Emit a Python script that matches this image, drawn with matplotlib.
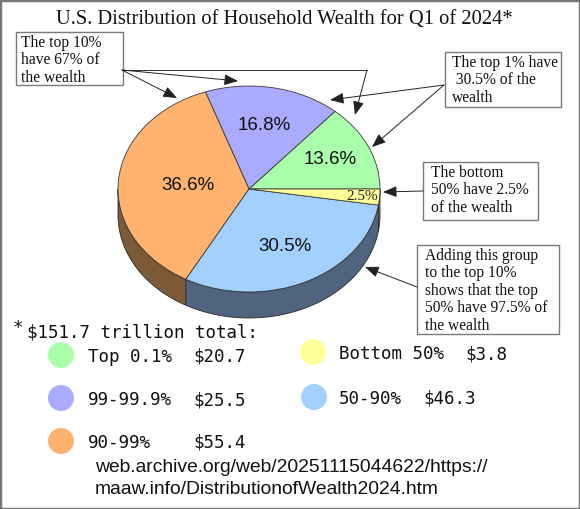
import numpy as np
import matplotlib.pyplot as plt
from matplotlib.patches import Rectangle, Polygon, Circle

# data
groups = ['Top 0.1%', '99-99.9%', '90-99%', '50-90%', 'Bottom 50%']
wealth = [20.7, 25.5, 55.4, 46.3, 3.8]        # trillions of dollars
shares = [13.6, 16.8, 36.6, 30.5, 2.5]        # percent, as printed on the pie
total = 151.7
title = 'U.S. Distribution of Household Wealth for Q1 of 2024*'
source = ['web.archive.org/web/20251115044622/https://',
          'maaw.info/DistributionofWealth2024.htm']

top_colors = ['#aaffaa', '#aaaaff', '#ffb36e', '#a2d0ff', '#ffff99']
side_colors = ['#5a805a', '#5a5a80', '#7d5a37', '#506480', '#80804d']

W, H = 580, 509
fig = plt.figure(figsize=(W / 100, H / 100), dpi=100)

# ---- pie (flattened into an ellipse, with a side wall) ----
cx, cy, ra, rb = 249, 189, 131, 103   # pixel geometry of the top ellipse
depth = 26 / rb
xl = (-1.1, 1.1)
yl = (-1.45, 1.1)
left_px, right_px = cx + xl[0] * ra, cx + xl[1] * ra
top_px, bot_px = cy - yl[1] * rb, cy - yl[0] * rb
pax = fig.add_axes([left_px / W, 1 - bot_px / H,
                    (right_px - left_px) / W, (bot_px - top_px) / H])

wedges, _ = pax.pie(shares, colors=top_colors, startangle=0, counterclock=True,
                    radius=1, center=(0, 0), frame=True,
                    wedgeprops=dict(edgecolor='#3a3a3a', linewidth=0.6, zorder=3))
pax.set_aspect('auto')
pax.set_xlim(xl)
pax.set_ylim(yl)
pax.axis('off')

for w, sc in zip(wedges, side_colors):
    t1 = max(w.theta1, 180)
    t2 = min(w.theta2, 360)
    if t2 <= t1:
        continue
    t = np.radians(np.linspace(t1, t2, 80))
    xs, ys = np.cos(t), np.sin(t)
    verts = np.column_stack([np.r_[xs, xs[::-1]], np.r_[ys, ys[::-1] - depth]])
    pax.add_patch(Polygon(verts, closed=True, fc=sc, ec='#2a2a2a', lw=0.6, zorder=1))

# percent labels
label_r = [0.68, 0.63, 0.47, 0.62, 0.87]
for w, s, r in zip(wedges, shares, label_r):
    mid = np.radians((w.theta1 + w.theta2) / 2)
    if s < 5:
        pax.text(r * np.cos(mid), r * np.sin(mid), f'{s}%', ha='center', va='center',
                 family='Liberation Serif', fontsize=11, color='#222222', zorder=5)
    else:
        pax.text(r * np.cos(mid), r * np.sin(mid), f'{s}%', ha='center', va='center',
                 family='Liberation Sans', fontsize=13.5, color='#111111', zorder=5)

# ---- overlay in pixel coordinates ----
ax = fig.add_axes([0, 0, 1, 1])
ax.set_xlim(0, W)
ax.set_ylim(H, 0)
ax.axis('off')
ax.patch.set_alpha(0)

ax.text(284, 24, title, ha='center', va='baseline', family='Liberation Serif',
        fontsize=14.8, color='#111111')

serif = dict(family='Liberation Serif', fontsize=11.2, color='#111111',
             linespacing=1.12, va='top', ha='left')
boxes = [
    ((16, 32, 107, 53), 'The top 10%\nhave 67% of\nthe wealth', (21, 35)),
    ((445, 52, 116, 55), 'The top 1% have\n 30.5% of the\nwealth', (452, 55)),
    ((423, 162, 115, 58), 'The bottom\n50% have 2.5%\nof the wealth', (431, 165)),
    ((417, 245, 142, 89), 'Adding this group\nto the top 10%\nshows that the top\n'
     '50% have 97.5% of\nthe wealth', (425, 248)),
]
for (x, y, w, h), txt, (tx, ty) in boxes:
    ax.add_patch(Rectangle((x, y), w, h, fc='white', ec='#7a7a7a', lw=1.0, zorder=4))
    ax.text(tx, ty, txt, zorder=5, **serif)

arrow = dict(arrowstyle='-|>,head_length=0.7,head_width=0.28', color='#222222',
             lw=0.7, mutation_scale=12, shrinkA=0, shrinkB=0)
arrows = [
    ((122, 70), (177, 98)),
    ((122, 70), (238, 81)),
    ((367, 70), (355, 115)),
    ((444, 85), (330, 100)),
    ((444, 85), (372, 147)),
    ((423, 191), (383, 192)),
    ((417, 287), (365, 267)),
]
ax.plot([122, 367], [70, 70], color='#333333', lw=0.7, zorder=6)
for start, tip in arrows:
    ax.annotate('', xy=tip, xytext=start, arrowprops=arrow, zorder=6)

# legend with dollar amounts
mono = dict(family='DejaVu Sans Mono', fontsize=12.6, color='#111111')
ax.text(13, 333, '*', ha='left', va='baseline', **mono)
ax.text(27, 337, f'${total} trillion total:', ha='left', va='baseline', **mono)

rows = [(0, 61, 355, 88, 193), (1, 61, 398, 88, 193), (2, 61, 441, 88, 193),
        (4, 313, 352, 339, 465), (3, 314, 397, 339, 423)]
for i, ccx, ccy, tx, vx in rows:
    ax.add_patch(Circle((ccx, ccy), 13, fc=top_colors[i], ec='none', zorder=4))
    ax.text(tx, ccy + 2, groups[i], ha='left', va='center', **mono)
    ax.text(vx, ccy + 2, f'${wealth[i]}', ha='left', va='center', **mono)

for k, line in enumerate(source):
    ax.text(95, 467 + 22 * k, line, ha='left', va='center', family='Liberation Sans',
            fontsize=13.9, color='#111111')

fig.patches.append(Rectangle((0, 0), 1, 1, transform=fig.transFigure, fill=False,
                             ec='#777777', lw=2.5))

fig.savefig('out.png', dpi=100)
